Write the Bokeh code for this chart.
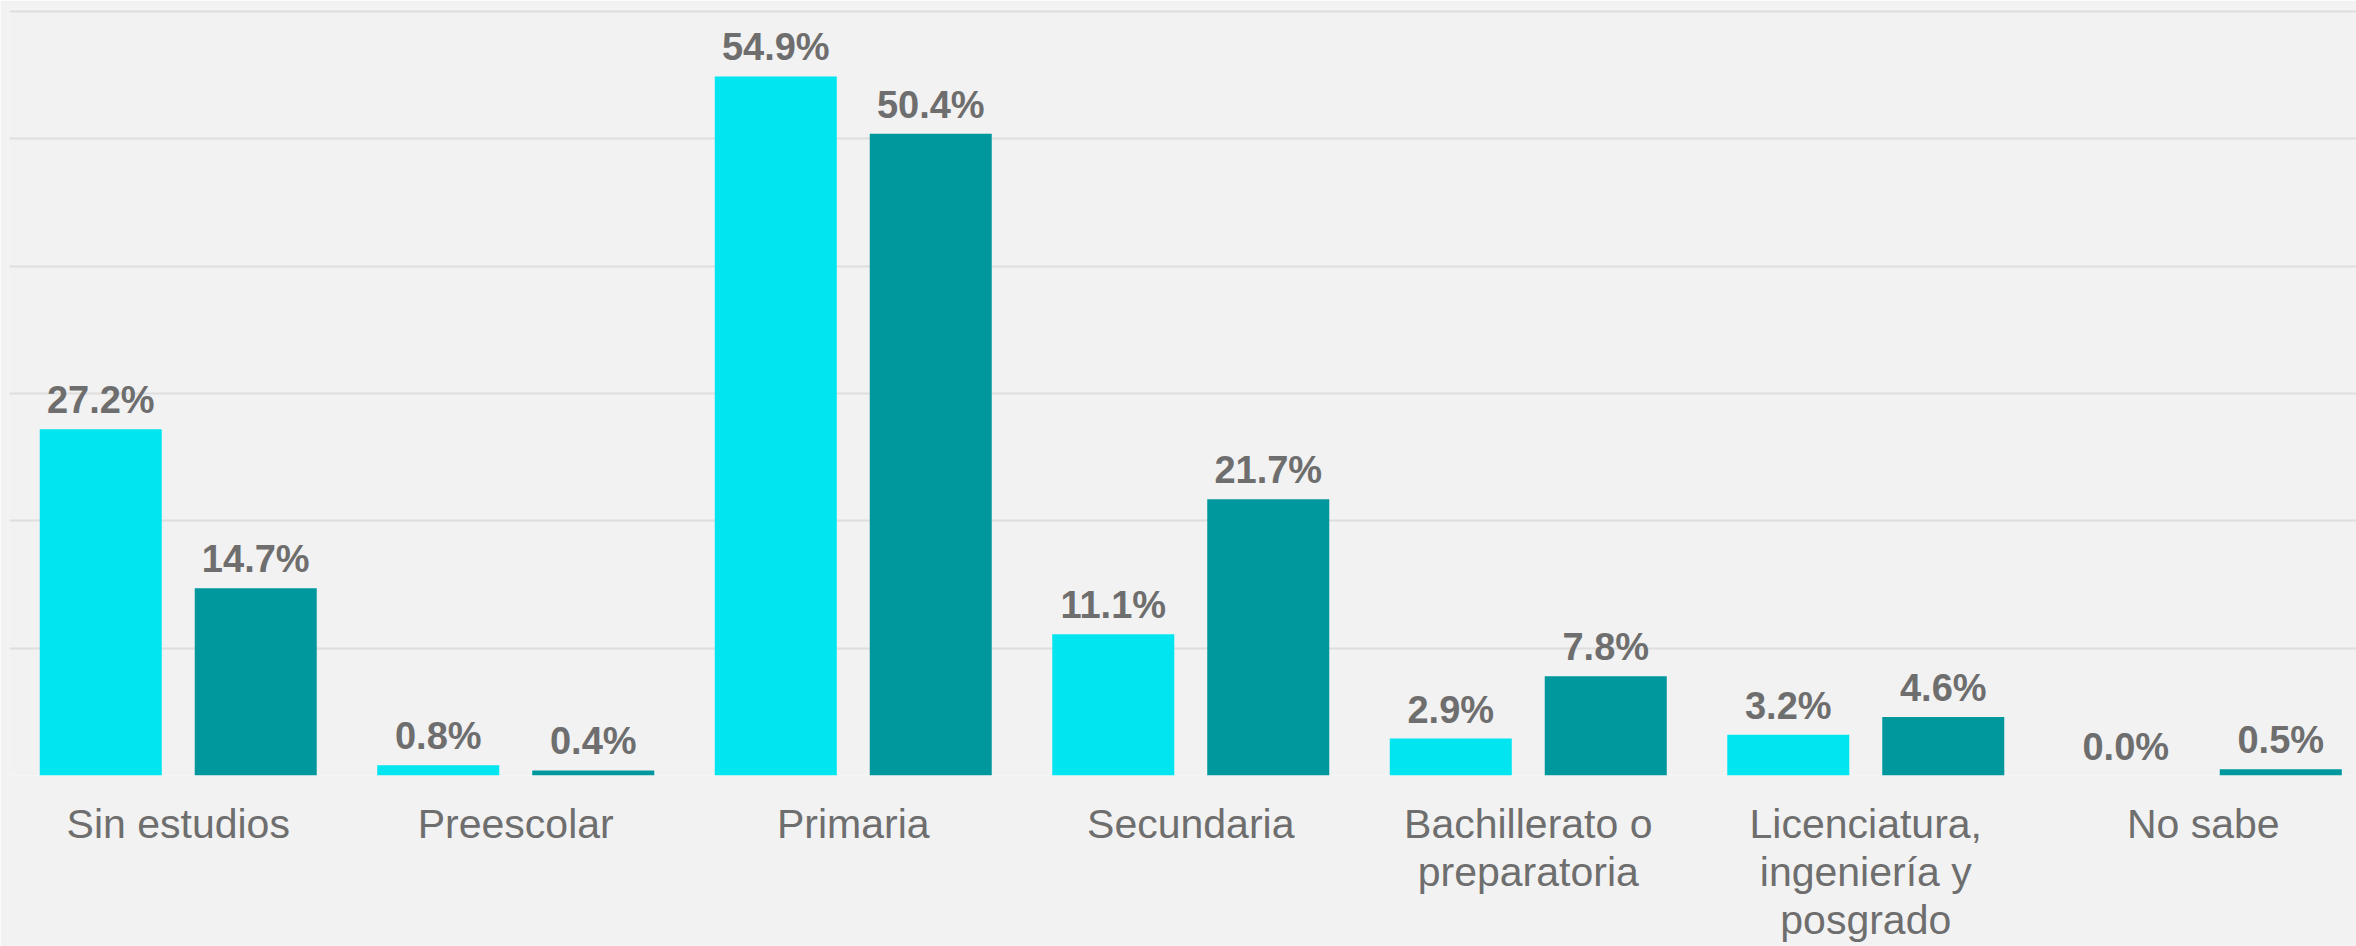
from bokeh.plotting import figure
from bokeh.models import Range1d, FixedTicker, ColumnDataSource
from bokeh.core.properties import value
from bokeh.embed import file_html
from bokeh.resources import INLINE

categories = ["Sin estudios", "Preescolar", "Primaria", "Secundaria",
              "Bachillerato o\npreparatoria", "Licenciatura,\ningeniería y\nposgrado", "No sabe"]
serie_1 = [27.2, 0.8, 54.9, 11.1, 2.9, 3.2, 0.0]
serie_2 = [14.7, 0.4, 50.4, 21.7, 7.8, 4.6, 0.5]
y_ticks = [0, 10, 20, 30, 40, 50, 60]

color_1 = "#00E5F0"
color_2 = "#00979D"
text_color = "#6E6E6E"
bg = "#F2F2F2"

centers = [i + 0.5 for i in range(len(categories))]
off = 0.2296
bw = 0.3615

p = figure(output_backend="svg", toolbar_location=None,
           frame_width=2347, frame_height=767,
           x_range=Range1d(0, 6.954), y_range=Range1d(0, 60.235),
           min_border_left=9, min_border_right=0, min_border_top=8, min_border_bottom=0,
           background_fill_color=bg, border_fill_color=bg, outline_line_color=None)

src1 = ColumnDataSource(dict(x=[c - off for c in centers], top=serie_1,
                             lab=[f"{v:.1f}%" for v in serie_1]))
src2 = ColumnDataSource(dict(x=[c + off for c in centers], top=serie_2,
                             lab=[f"{v:.1f}%" for v in serie_2]))

p.vbar(x="x", top="top", bottom=0, width=bw, source=src1, fill_color=color_1, line_color=None)
p.vbar(x="x", top="top", bottom=0, width=bw, source=src2, fill_color=color_2, line_color=None)

for s in (src1, src2):
    p.text(x="x", y="top", text="lab", source=s, text_align="center",
           text_baseline="alphabetic", y_offset=-29,
           text_font=value("Liberation Sans"), text_font_style="bold",
           text_font_size="38px", text_color=text_color)

p.ygrid.ticker = FixedTicker(ticks=y_ticks)
p.ygrid.grid_line_color = "#DEDEDE"
p.ygrid.grid_line_width = 2
p.xgrid.visible = False
p.yaxis.visible = False

p.xaxis.ticker = FixedTicker(ticks=centers)
p.xaxis.major_label_overrides = {c: lab for c, lab in zip(centers, categories)}
p.xaxis.axis_line_color = None
p.xaxis.major_tick_line_color = None
p.xaxis.minor_tick_line_color = None
p.xaxis.major_label_standoff = 19
p.xaxis.major_label_text_font = "Liberation Sans"
p.xaxis.major_label_text_font_size = "41px"
p.xaxis.major_label_text_color = text_color
p.xaxis.major_label_text_line_height = 1.05

open("out.html", "w").write(file_html(p, INLINE))
